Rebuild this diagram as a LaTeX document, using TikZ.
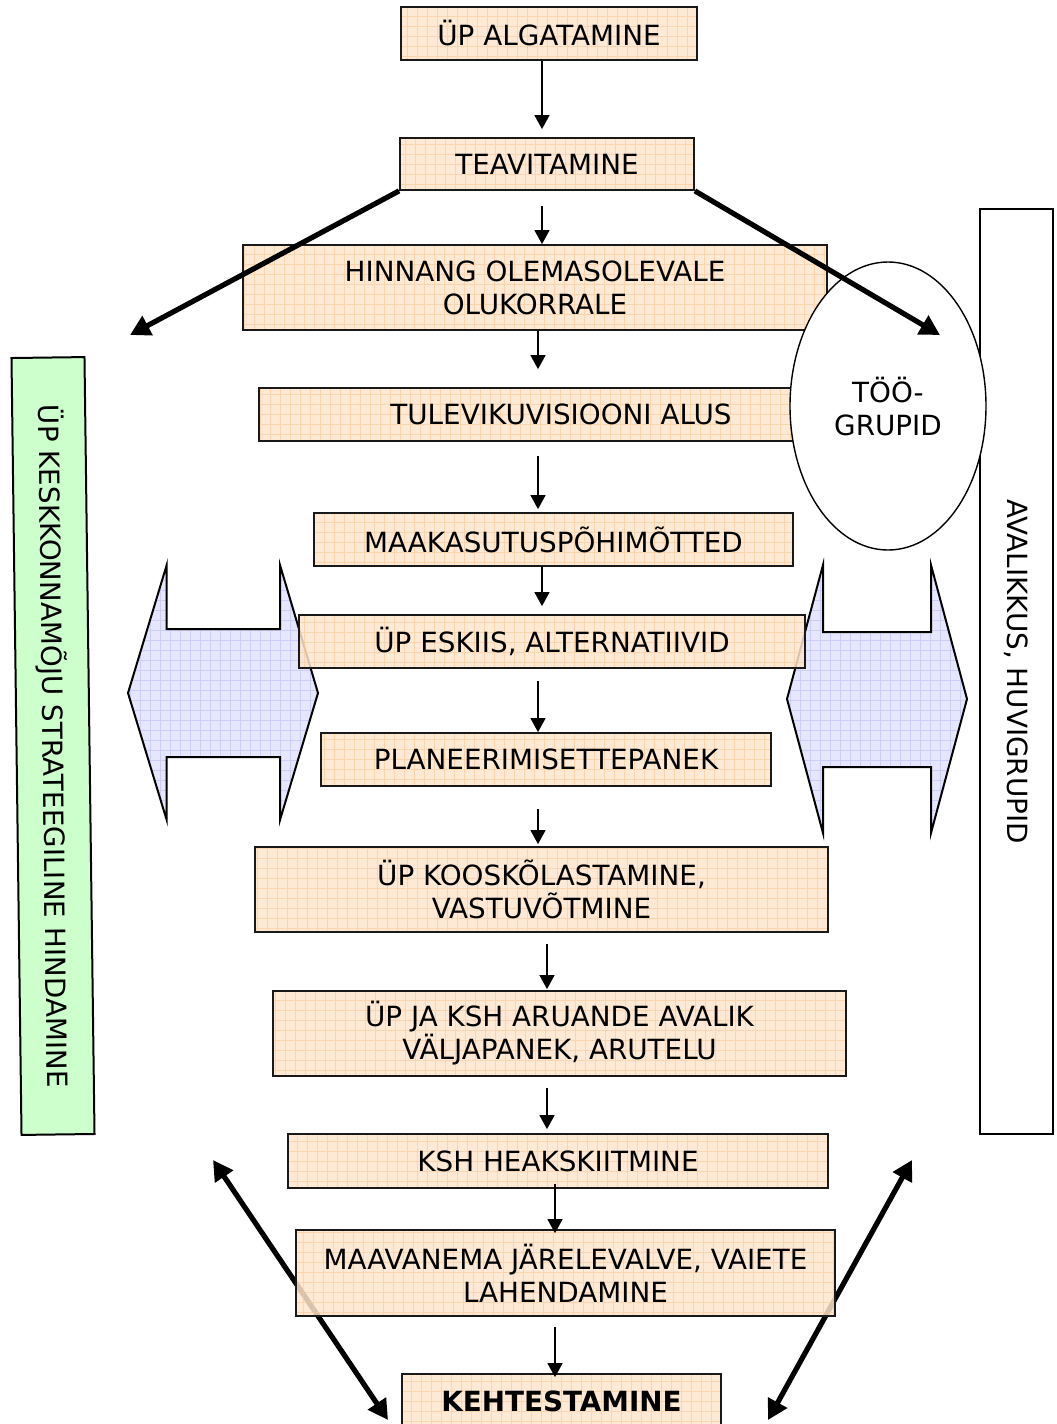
\documentclass[tikz,border=0pt]{standalone}
\usepackage{fontspec}
\setmainfont{DejaVu Sans}
\usetikzlibrary{arrows.meta,shapes.geometric}
\definecolor{boxfill}{RGB}{253,229,205}
\definecolor{boxgrid}{RGB}{249,200,150}
\definecolor{bluefill}{RGB}{230,230,255}
\definecolor{bluegrid}{RGB}{205,205,252}
\definecolor{greenfill}{RGB}{204,255,204}
\tikzset{
  stepbox/.style={draw=black!90, line width=0.9pt, fill=boxfill, fill opacity=0.85, text opacity=1,
    inner sep=0pt, font=\fontsize{13.9}{16.5}\selectfont, align=center,
    path picture={\draw[boxgrid, line width=0.3pt, opacity=0.6, step=5pt]
      (path picture bounding box.south west) grid (path picture bounding box.north east);}},
  bluearrow/.style={draw=black, line width=1pt, fill=bluefill, line join=miter,
    path picture={\draw[bluegrid, line width=0.3pt, step=5pt]
      (path picture bounding box.south west) grid (path picture bounding box.north east);}},
  sidebox/.style={draw=black, inner sep=0pt, font=\fontsize{13.9}{16.5}\selectfont},
  arr/.style={line width=0.75pt, -{Triangle[length=7pt,width=7.5pt]}},
  bigarr/.style={line width=2.6pt, -{Triangle[length=10pt,width=10.5pt]}},
  bigdarr/.style={line width=2.6pt, {Triangle[length=10pt,width=10.5pt]}-{Triangle[length=10pt,width=10.5pt]}},
}
\newcommand\stepnode[6]{\node[stepbox, minimum width={(#4-#2)*0.5pt}, minimum height={(#5-#3)*0.5pt}]
  (#1) at ({(#2+#4)/2},{(#3+#5)/2}) {#6};}
\begin{document}
\begin{tikzpicture}[x=0.5pt,y=-0.5pt]
\useasboundingbox (0,0) rectangle (1056,1424);
% blue double arrows
\draw[bluearrow] (166.7,565) -- (166.7,629) -- (280,629) -- (280,565) -- (318,693) -- (280,820)
  -- (280,757) -- (166.7,757) -- (166.7,820) -- (128,693) -- cycle;
\draw[bluearrow] (823,565) -- (823,632) -- (931,632) -- (931,565) -- (967,699) -- (931,833)
  -- (931,767) -- (823,767) -- (823,833) -- (787,699) -- cycle;
% bottom double arrows
\coordinate (bl1) at (213,1160);
\coordinate (bl2) at (388,1420);
\coordinate (br1) at (912,1160);
\coordinate (br2) at (768,1420);
\draw[bigdarr] (bl1) -- (bl2);
\draw[bigdarr] (br1) -- (br2);
% side boxes
\node[sidebox, line width=1pt, fill=greenfill, rotate=-89.26, minimum width=388.5pt, minimum height=36.5pt]
  (seh) at (53,746) {ÜP KESKKONNAMÕJU STRATEEGILINE HINDAMINE};
\node[sidebox, line width=0.7pt, fill=white, rotate=-90, minimum width=462.5pt, minimum height=36.5pt]
  (pub) at (1016.5,671.5) {AVALIKKUS, HUVIGRUPID};
% step boxes
\stepnode{a}{401}{7}{697}{60}{ÜP ALGATAMINE}
\stepnode{b}{400}{138}{694}{190}{TEAVITAMINE}
\stepnode{c}{243}{245}{827}{330}{HINNANG OLEMASOLEVALE\\OLUKORRALE}
\stepnode{d}{259}{388}{863}{441}{TULEVIKUVISIOONI ALUS}
\stepnode{e}{314}{513}{793}{566}{MAAKASUTUSPÕHIMÕTTED}
\stepnode{f}{299}{615}{805}{668}{ÜP ESKIIS, ALTERNATIIVID}
\stepnode{g}{321}{733}{771}{786}{PLANEERIMISETTEPANEK}
\stepnode{h}{255}{847}{828}{932}{ÜP KOOSKÕLASTAMINE,\\VASTUVÕTMINE}
\stepnode{i}{273}{991}{846}{1076}{ÜP JA KSH ARUANDE AVALIK\\VÄLJAPANEK, ARUTELU}
\stepnode{j}{288}{1134}{828}{1188}{KSH HEAKSKIITMINE}
\stepnode{k}{296}{1230}{835}{1316}{MAAVANEMA JÄRELEVALVE, VAIETE\\LAHENDAMINE}
\stepnode{l}{402}{1374}{721}{1428}{\textbf{KEHTESTAMINE}}
% ellipse
\node[ellipse, draw, line width=0.7pt, fill=white, minimum width=98pt, minimum height=144pt, inner sep=0pt,
  font=\fontsize{13.9}{16.5}\selectfont, align=center] (tg) at (888,406) {TÖÖ-\\GRUPID};
% top thick arrows
\coordinate (tl) at (130,335);
\coordinate (tr) at (940,335);
\draw[bigarr] (b.south west) -- (tl);
\draw[bigarr] (b.south east) -- (tr);
% thin arrows
\draw[arr] ([shift={(-7,0)}]a.south) -- ([shift={(-5,-8)}]b.north);
\draw[arr] ([shift={(-5,15)}]b.south) -- ([shift={(7,0)}]c.north);
\draw[arr] ([shift={(3,0)}]c.south) -- ([shift={(-23,-18)}]d.north);
\draw[arr] ([shift={(-23,14)}]d.south) -- ([shift={(-15.5,-3)}]e.north);
\draw[arr] ([shift={(-11.5,0)}]e.south) -- ([shift={(-10,-8)}]f.north);
\draw[arr] ([shift={(-14,12)}]f.south) -- ([shift={(-8,0)}]g.north);
\draw[arr] ([shift={(-8,22)}]g.south) -- ([shift={(-3.5,-2)}]h.north);
\draw[arr] ([shift={(5.5,11)}]h.south) -- ([shift={(-12.5,-1)}]i.north);
\draw[arr] ([shift={(-12.5,11)}]i.south) -- ([shift={(-11,-4)}]j.north);
\draw[arr] ([shift={(-3,-5)}]j.south) -- ([shift={(-10.5,4)}]k.north);
\draw[arr] ([shift={(-10.5,10)}]k.south) -- ([shift={(-6.5,4)}]l.north);
\end{tikzpicture}
\end{document}
